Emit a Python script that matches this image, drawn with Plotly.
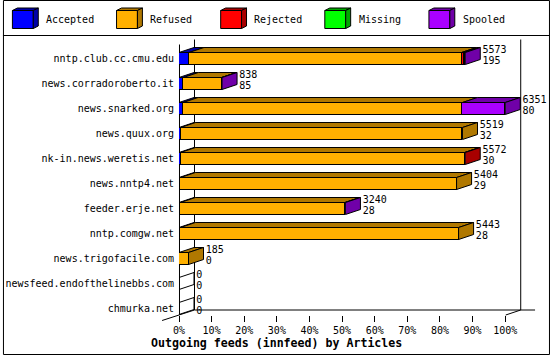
import plotly.graph_objects as go

# ---------------- data ----------------
categories = ["nntp.club.cc.cmu.edu", "news.corradoroberto.it", "news.snarked.org",
              "news.quux.org", "nk-in.news.weretis.net", "news.nntp4.net",
              "feeder.erje.net", "nntp.comgw.net", "news.trigofacile.com",
              "newsfeed.endofthelinebbs.com", "chmurka.net"]
offered = [5573, 838, 6351, 5519, 5572, 5404, 3240, 5443, 185, 0, 0]
accepted = [195, 85, 80, 32, 30, 29, 28, 28, 0, 0, 0]
refused = [5305, 743, 5438, 5487, 5532, 5375, 3202, 5415, 185, 0, 0]
rejected = [55, 0, 0, 0, 10, 0, 0, 0, 0, 0, 0]
missing = [0, 0, 0, 0, 0, 0, 0, 0, 0, 0, 0]
spooled = [18, 10, 833, 0, 0, 0, 10, 0, 0, 0, 0]
series_names = ["Accepted", "Refused", "Rejected", "Missing", "Spooled"]
x_ticks = [0, 10, 20, 30, 40, 50, 60, 70, 80, 90, 100]
x_ticklabels = [f"{v}%" for v in x_ticks]
title_text = "Outgoing feeds (innfeed) by Articles"

# ---------------- style ----------------
front_colors = ["#0000FF", "#FFB000", "#FF0000", "#00FF00", "#AA00FF"]
dark_colors = ["#0000A8", "#B07800", "#A80000", "#00A800", "#7000A8"]
FONT = "DejaVu Sans Mono"
W, H = 550, 355
PL, PR, PT, PB = 177, 545, 35, 315
XMAX = (PR - PL) / 3.28
Y_TOP, Y_BOT = -0.94, 10.26
DX, DY = 4.6, 0.2      # 3D depth in data units
BH = 0.48              # bar front height (rows)
LABEL_GAP = 0.7

series_vals = [accepted, refused, rejected, missing, spooled]
vmax = max(offered)
pct = [[v / vmax * 100 for v in s] for s in series_vals]
n = len(categories)
idx = list(range(n))


def fx(px):
    return (px - PL) / (PR - PL)


def fy(py):
    return (PB - py) / (PB - PT)


def dpx(x):
    return PL + x * (PR - PL) / XMAX


def dpy(y):
    return PT + (y - Y_TOP) / (Y_BOT - Y_TOP) * (PB - PT)


fig = go.Figure()

# front faces
for name, vals, col in zip(series_names, pct, front_colors):
    fig.add_trace(go.Bar(y=idx, x=vals, orientation="h", width=BH, name=name,
                         marker=dict(color=col, line=dict(color="black", width=1)),
                         showlegend=False))

shapes = []


def poly(pts, ref, fill, lw=1):
    d = "M " + " L ".join(f"{a},{b}" for a, b in pts) + " Z"
    return dict(type="path", path=d, xref=ref[0], yref=ref[1], fillcolor=fill,
                line=dict(color="black", width=lw), layer="above")


# top and side faces
for i in idx:
    yt, yb = i - BH / 2, i + BH / 2
    start = 0.0
    last = None
    for k in range(len(series_names)):
        w = pct[k][i]
        if w > 0:
            x0, x1 = start, start + w
            shapes.append(poly([(x0, yt), (x1, yt), (x1 + DX, yt - DY), (x0 + DX, yt - DY)],
                               ("x", "y"), dark_colors[k]))
            last = k
            start = x1
    fill = dark_colors[last] if last is not None else "rgba(0,0,0,0)"
    xe = start
    shapes.append(poly([(xe, yt), (xe + DX, yt - DY), (xe + DX, yb - DY), (xe, yb)],
                       ("x", "y"), fill))

# value labels
ends = [sum(pct[k][i] for k in range(len(series_names))) + DX + LABEL_GAP for i in idx]
fig.add_trace(go.Scatter(x=ends, y=[i - 0.33 for i in idx], text=[str(v) for v in offered],
                         mode="text", textposition="middle right", cliponaxis=False,
                         textfont=dict(family=FONT, size=10, color="black"), showlegend=False))
fig.add_trace(go.Scatter(x=ends, y=[i + 0.1 for i in idx], text=[str(v) for v in accepted],
                         mode="text", textposition="middle right", cliponaxis=False,
                         textfont=dict(family=FONT, size=10, color="black"), showlegend=False))


def line(p1, p2):
    return dict(type="line", xref="paper", yref="paper", x0=fx(p1[0]), y0=fy(p1[1]),
                x1=fx(p2[0]), y1=fy(p2[1]), line=dict(color="black", width=1), layer="below")


# frame (derived from axis geometry)
x0p, xdp, x100p, x100dp = dpx(0), dpx(DX), dpx(100), dpx(100 + DX)
yfront, yback = dpy(Y_BOT), dpy(Y_BOT - DY)
ytop_front, ytop_back = dpy(-0.56), dpy(-0.76)
shapes += [
    line((x0p + 0.5, ytop_front), (x0p + 0.5, yfront)),
    line((xdp + 0.5, ytop_back), (xdp + 0.5, yback)),
    line((x100dp + 0.5, ytop_back), (x100dp + 0.5, yback)),
    line((xdp + 0.5, yback), (535, yback)),
    line((160, yfront + 5.5), (xdp + 0.5, yback)),
    line((x100p + 0.5, yfront), (x100dp + 0.5, yback)),
]
# outer border and legend separator
shapes.append(dict(type="rect", xref="paper", yref="paper", x0=fx(0.5), y0=fy(0.5),
                   x1=fx(549.5), y1=fy(354.5), line=dict(color="black", width=1),
                   fillcolor="rgba(0,0,0,0)", layer="below"))
shapes.append(line((0, 35.5), (550, 35.5)))

# custom 3D legend
annotations = []
for k, name in enumerate(series_names):
    lx = 9.5 + k * 104.7
    shapes.append(poly([(fx(lx), fy(10.5)), (fx(lx + 21), fy(10.5)), (fx(lx + 21), fy(28.5)),
                        (fx(lx), fy(28.5))], ("paper", "paper"), front_colors[k]))
    shapes.append(poly([(fx(lx), fy(10.5)), (fx(lx + 21), fy(10.5)), (fx(lx + 26), fy(8)),
                        (fx(lx + 5), fy(8))], ("paper", "paper"), dark_colors[k]))
    shapes.append(poly([(fx(lx + 21), fy(10.5)), (fx(lx + 26), fy(8)), (fx(lx + 26), fy(26)),
                        (fx(lx + 21), fy(28.5))], ("paper", "paper"), dark_colors[k]))
    annotations.append(dict(text=name, x=fx(lx + 32), y=fy(20), xref="paper", yref="paper",
                            xanchor="left", yanchor="middle", showarrow=False,
                            font=dict(family=FONT, size=10, color="black")))

annotations.append(dict(text=title_text, x=fx(275), y=fy(343), xref="paper", yref="paper",
                        xanchor="center", yanchor="middle", showarrow=False,
                        font=dict(family=FONT, size=11.6, color="black", weight="bold")))

fig.update_layout(
    width=W, height=H, margin=dict(l=PL, r=W - PR, t=PT, b=H - PB),
    paper_bgcolor="white", plot_bgcolor="white", barmode="stack", bargap=0,
    showlegend=False, shapes=shapes, annotations=annotations,
    font=dict(family=FONT, size=10, color="black"),
    xaxis=dict(range=[0, XMAX], tickvals=x_ticks, ticktext=x_ticklabels, ticks="outside",
               ticklen=6, tickcolor="black", tickwidth=1, showgrid=False, zeroline=False,
               showline=False, fixedrange=True, tickfont=dict(family=FONT, size=10)),
    yaxis=dict(range=[Y_BOT, Y_TOP], tickvals=idx, ticktext=categories, showgrid=False,
               zeroline=False, showline=False, ticks="", ticklabelstandoff=4,
               tickfont=dict(family=FONT, size=10), fixedrange=True),
)

fig.write_html("out.html")
